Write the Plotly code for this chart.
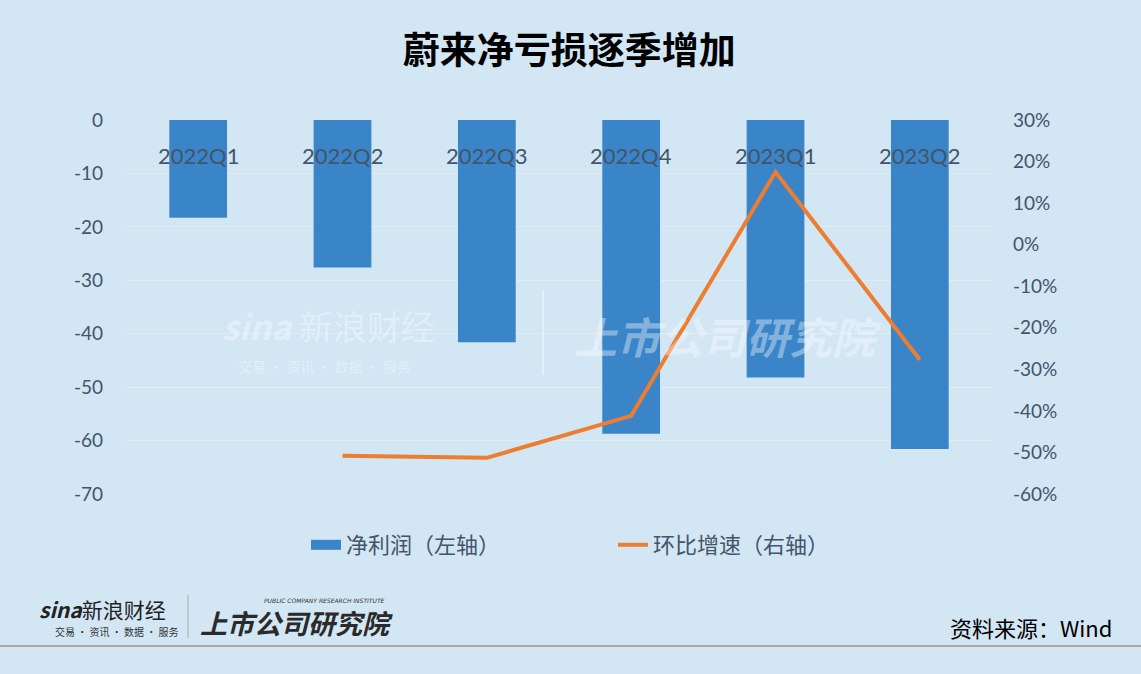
import plotly.graph_objects as go

quarters = ["2022Q1", "2022Q2", "2022Q3", "2022Q4", "2023Q1", "2023Q2"]
net_profit = [-18.3, -27.6, -41.6, -58.7, -48.2, -61.6]
qoq_quarters = ["2022Q2", "2022Q3", "2022Q4", "2023Q1", "2023Q2"]
qoq_growth = [-50.8, -51.3, -41.2, 17.5, -27.7]
left_ticks = [0, -10, -20, -30, -40, -50, -60, -70]
left_labels = ["0", "-10", "-20", "-30", "-40", "-50", "-60", "-70"]
right_ticks = [30, 20, 10, 0, -10, -20, -30, -40, -50, -60]
right_labels = ["30%", "20%", "10%", "0%", "-10%", "-20%", "-30%", "-40%", "-50%", "-60%"]

BG = "#d2e6f4"
TXT = "#44546a"
FONT = "Lato, Noto Sans CJK SC, sans-serif"
CJK = "Noto Sans CJK SC, sans-serif"
BAR = "#3a84c8"
WM = "rgba(255,255,255,0.38)"

# plot-area geometry in pixels (for paper-coordinate helpers)
L, T, W, H = 126, 120, 866, 374
def px(xp):
    return (xp - L) / W
def py(yp):
    return (T + H - yp) / H

fig = go.Figure()
fig.add_trace(go.Bar(
    x=quarters, y=net_profit, name="净利润（左轴）",
    marker=dict(color=BAR, line=dict(width=0)),
    width=0.4, yaxis="y", showlegend=False,
))
# legend entry for the bars (wide rectangle swatch)
fig.add_trace(go.Scatter(
    x=[None], y=[None], name="净利润（左轴）", mode="lines",
    line=dict(color=BAR, width=14), yaxis="y",
))
fig.add_trace(go.Scatter(
    x=qoq_quarters, y=qoq_growth, name="环比增速（右轴）",
    mode="lines", line=dict(color="#ed7d31", width=4),
    yaxis="y2",
))

# category labels drawn near the top of the plot area
for q in quarters:
    fig.add_annotation(x=q, xref="x", y=py(155), yref="paper", text=q,
                       showarrow=False, yanchor="middle",
                       font=dict(family=FONT, size=22, color=TXT))

fig.update_layout(
    width=1141, height=674,
    paper_bgcolor=BG, plot_bgcolor=BG,
    margin=dict(l=L, r=1141 - L - W, t=T, b=674 - T - H),
    font=dict(family=FONT, color=TXT, size=19),
    title=dict(text="<b>蔚来净亏损逐季增加</b>", x=0.499, xanchor="center",
               y=1 - 51 / 674, yanchor="middle",
               font=dict(family=CJK, size=37, color="#000000")),
    xaxis=dict(showticklabels=False, showgrid=False, showline=False,
               ticks="", zeroline=False, range=[-0.5, 5.5]),
    yaxis=dict(range=[-70, 0], tickvals=left_ticks, ticktext=left_labels,
               showgrid=True, gridcolor="#e3ebf3", gridwidth=1, zeroline=False,
               ticks="", ticklabelstandoff=22,
               tickfont=dict(family=FONT, size=19, color=TXT)),
    yaxis2=dict(range=[-60, 30], tickvals=right_ticks, ticktext=right_labels,
                overlaying="y", side="right", showgrid=False, zeroline=False,
                ticks="", ticklabelstandoff=20,
                tickfont=dict(family=FONT, size=19, color=TXT)),
    legend=dict(orientation="h", x=px(306), xanchor="left", y=py(545),
                yanchor="middle", font=dict(family=CJK, size=22, color=TXT),
                entrywidth=262, bgcolor="rgba(0,0,0,0)"),
    bargap=0.6,
    showlegend=True,
)

# watermark (faint)
fig.add_annotation(xref="paper", yref="paper", x=px(220), y=py(325), showarrow=False,
                   xanchor="left", yanchor="middle",
                   text="<b><i>sina</i></b> 新浪财经", font=dict(family=CJK, size=34, color=WM))
fig.add_annotation(xref="paper", yref="paper", x=px(236), y=py(366), showarrow=False,
                   xanchor="left", yanchor="middle",
                   text="交易 · 资讯 · 数据 · 服务", font=dict(family=CJK, size=14, color=WM))
fig.add_annotation(xref="paper", yref="paper", x=px(572), y=py(335), showarrow=False,
                   xanchor="left", yanchor="middle",
                   text="<b><i>上市公司研究院</i></b>", font=dict(family=CJK, size=43, color=WM))
fig.add_shape(type="line", xref="paper", yref="paper", x0=px(543), x1=px(543),
              y0=py(290), y1=py(375), line=dict(color="rgba(255,255,255,0.4)", width=2))

# bottom-left logo texts
fig.add_annotation(xref="paper", yref="paper", x=px(37), y=py(609), xanchor="left", yanchor="middle",
                   showarrow=False, text="<b><i>sina</i></b>新浪财经",
                   font=dict(family=CJK, size=21, color="#222222"))
fig.add_annotation(xref="paper", yref="paper", x=px(53), y=py(631), xanchor="left", yanchor="middle",
                   showarrow=False, text="交易 · 资讯 · 数据 · 服务",
                   font=dict(family=CJK, size=10, color="#333333"))
fig.add_annotation(xref="paper", yref="paper", x=px(262), y=py(600), xanchor="left", yanchor="middle",
                   showarrow=False, text="<i>PUBLIC COMPANY RESEARCH INSTITUTE</i>",
                   font=dict(family="DejaVu Sans", size=6, color="#333333"))
fig.add_annotation(xref="paper", yref="paper", x=px(198), y=py(622), xanchor="left", yanchor="middle",
                   showarrow=False, text="<b><i>上市公司研究院</i></b>",
                   font=dict(family=CJK, size=27, color="#2a2a2a"))
fig.add_shape(type="line", xref="paper", yref="paper", x0=px(188), x1=px(188),
              y0=py(595), y1=py(638), line=dict(color="#aaaaaa", width=1))
fig.add_shape(type="line", xref="paper", yref="paper", x0=px(0), x1=px(1141),
              y0=py(646), y1=py(646), line=dict(color="#a8a8a8", width=2))

fig.add_annotation(xref="paper", yref="paper", x=px(1114), y=py(627), xanchor="right", yanchor="middle",
                   showarrow=False, text="资料来源：Wind",
                   font=dict(family=CJK, size=22, color="#000000"))

fig.write_html("out.html", config={"displayModeBar": False},
               post_script="document.body.style.margin='0';")
